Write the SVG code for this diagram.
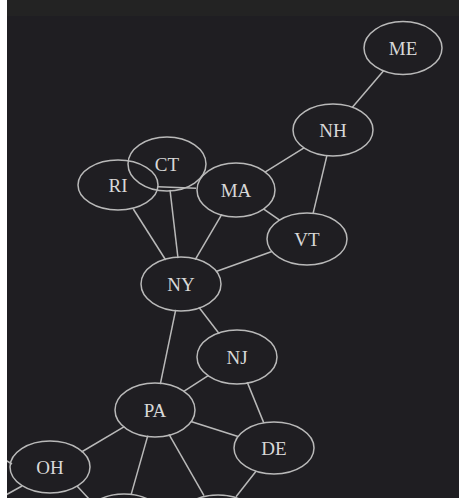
<svg xmlns="http://www.w3.org/2000/svg" width="459" height="498" viewBox="0 0 459 498">
  <style>
    .node ellipse { fill: none; stroke: #b9b9b9; stroke-width: 1.5; }
    .node text { font-family: "Liberation Serif", "Times New Roman", serif; font-size: 19px; fill: #d8d8d8; text-anchor: middle; dominant-baseline: central; }
    #edges line { stroke: #b9b9b9; stroke-width: 1.5; }
  </style>
  <!-- canvas -->
  <rect x="0" y="0" width="459" height="498" fill="#1f1e22"/>
  <rect x="7" y="0" width="452" height="16" fill="#232323"/>

  <g id="edges">
    <line x1="383.6" y1="70.7" x2="352.4" y2="107.3"/>
    <line x1="304.0" y1="147.9" x2="265.0" y2="172.1"/>
    <line x1="326.9" y1="155.7" x2="313.1" y2="213.3"/>
    <line x1="263.4" y1="208.9" x2="279.6" y2="220.1"/>
    <line x1="271.9" y1="251.5" x2="216.1" y2="271.5"/>
    <line x1="157.9" y1="186.7" x2="196.1" y2="188.3"/>
    <line x1="133.3" y1="209.0" x2="165.7" y2="260.0"/>
    <line x1="170.0" y1="189.9" x2="178.0" y2="258.1"/>
    <line x1="221.8" y1="214.3" x2="195.2" y2="259.7"/>
    <line x1="198.9" y1="307.3" x2="219.2" y2="333.7"/>
    <line x1="175.7" y1="309.8" x2="160.3" y2="384.2"/>
    <line x1="208.6" y1="375.3" x2="183.4" y2="391.7"/>
    <line x1="247.2" y1="382.1" x2="263.8" y2="422.9"/>
    <line x1="190.9" y1="421.5" x2="238.1" y2="436.5"/>
    <line x1="124.3" y1="426.7" x2="81.5" y2="452.0"/>
    <line x1="147.8" y1="435.6" x2="131.2" y2="494.4"/>
    <line x1="169.0" y1="434.4" x2="204.0" y2="495.6"/>
    <line x1="256.0" y1="471.2" x2="236.0" y2="496.8"/>
    <line x1="77.0" y1="486.0" x2="90.0" y2="500.0"/>
    <line x1="0" y1="457" x2="12" y2="464"/>
    <line x1="22" y1="486" x2="4" y2="496"/>
  </g>

  <g id="ME" class="node"><ellipse cx="403" cy="48" rx="39" ry="26.5"/><text x="403" y="48">ME</text></g>
  <g id="NH" class="node"><ellipse cx="333" cy="130" rx="40" ry="26"/><text x="333" y="130">NH</text></g>
  <g id="VT" class="node"><ellipse cx="307" cy="239" rx="40" ry="26"/><text x="307" y="239">VT</text></g>
  <g id="CT" class="node"><ellipse cx="167" cy="164" rx="39" ry="27"/><text x="167" y="164">CT</text></g>
  <g id="RI" class="node"><ellipse cx="118" cy="185" rx="40" ry="25"/><text x="118" y="185">RI</text></g>
  <g id="MA" class="node"><ellipse cx="236" cy="190" rx="39" ry="27"/><text x="236" y="190">MA</text></g>
  <g id="NY" class="node"><ellipse cx="181" cy="284" rx="40" ry="27"/><text x="181" y="284">NY</text></g>
  <g id="NJ" class="node"><ellipse cx="237" cy="357" rx="40" ry="27"/><text x="237" y="357">NJ</text></g>
  <g id="PA" class="node"><ellipse cx="155" cy="410" rx="40" ry="27"/><text x="155" y="410">PA</text></g>
  <g id="DE" class="node"><ellipse cx="274" cy="448" rx="40" ry="26"/><text x="274" y="448">DE</text></g>
  <g id="OH" class="node"><ellipse cx="50" cy="467" rx="40" ry="26"/><text x="50" y="467">OH</text></g>
  <g id="WV" class="node"><ellipse cx="124" cy="520" rx="40" ry="26"/></g>
  <g id="MD" class="node"><ellipse cx="218" cy="521" rx="40" ry="26"/></g>

  <!-- page margin strip -->
  <rect x="0" y="0" width="7" height="498" fill="#ffffff"/>
</svg>
